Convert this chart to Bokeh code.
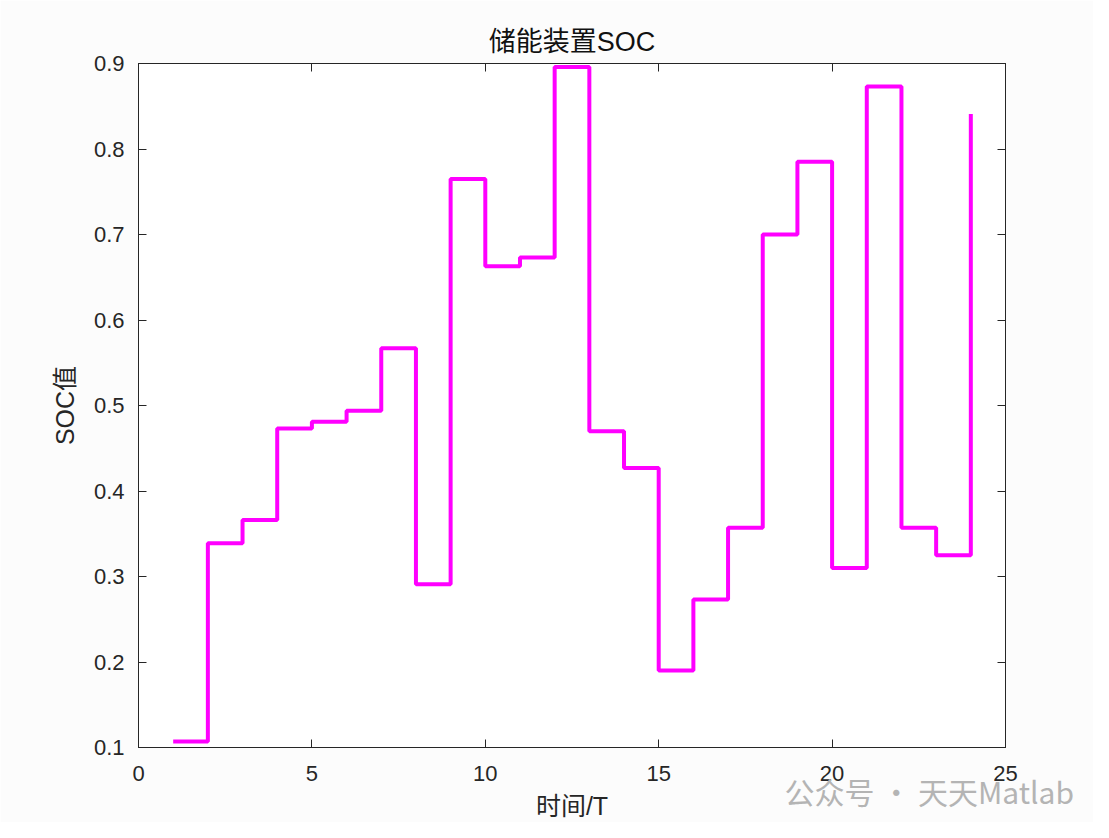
from bokeh.plotting import figure
from bokeh.models import Range1d, LinearAxis, FixedTicker, CustomJSTickFormatter, AllLabels
from bokeh.embed import file_html
from bokeh.resources import INLINE

# ---- data ----
hours = list(range(1, 25))
soc = [0.107, 0.339, 0.366, 0.473, 0.481, 0.494, 0.567, 0.291,
       0.765, 0.663, 0.673, 0.896, 0.470, 0.427, 0.190, 0.273,
       0.357, 0.700, 0.785, 0.310, 0.873, 0.357, 0.325, 0.841]
x_ticks = [0, 5, 10, 15, 20, 25]
y_ticks = [0.1, 0.2, 0.3, 0.4, 0.5, 0.6, 0.7, 0.8, 0.9]

title_text = "储能装置SOC"
x_label = "时间/T"
y_label = "SOC值"
watermark = "公众号 · 天天Matlab"
watermark_at = 22.8   # horizontal centre of the watermark, in x units

FONT = "Liberation Sans, Noto Sans CJK SC"
CJK = "Liberation Sans, Noto Sans CJK SC"
AX = "#262626"

p = figure(width=1093, height=822, output_backend="svg", toolbar_location=None,
           x_range=Range1d(0, 25), y_range=Range1d(0.1, 0.9),
           min_border_left=138, min_border_right=88, min_border_top=63, min_border_bottom=75,
           title=title_text)

p.background_fill_color = "#ffffff"
p.border_fill_color = "#fcfcfc"
p.outline_line_color = AX
p.outline_line_width = 1
p.grid.visible = False

p.title.align = "center"
p.title.text_font = CJK
p.title.text_font_size = "27px"
p.title.text_font_style = "normal"
p.title.text_color = "#111111"
p.title.offset = 0
p.title.standoff = 13

p.step(hours, soc, mode="after", line_color="#ff00ff", line_width=4)

for ax, ticks in ((p.xaxis[0], x_ticks), (p.yaxis[0], y_ticks)):
    ax.ticker = FixedTicker(ticks=ticks)
    ax.major_tick_in = 8
    ax.major_tick_out = 0
    ax.minor_tick_line_color = None
    ax.axis_line_color = AX
    ax.major_tick_line_color = AX
    ax.major_label_text_color = AX
    ax.major_label_text_font = FONT
    ax.major_label_text_font_size = "22px"
    ax.axis_label_text_font = CJK
    ax.axis_label_text_font_size = "25px"
    ax.axis_label_text_font_style = "normal"
    ax.axis_label_text_color = AX

p.xaxis[0].axis_label = x_label
p.yaxis[0].axis_label = y_label
p.xaxis[0].major_label_standoff = 18
p.yaxis[0].major_label_standoff = 14
p.xaxis[0].axis_label_standoff = 8
p.yaxis[0].axis_label_standoff = 12

empty = CustomJSTickFormatter(code="return ''")
top = LinearAxis(ticker=FixedTicker(ticks=x_ticks), formatter=empty)
right = LinearAxis(ticker=FixedTicker(ticks=y_ticks), formatter=empty)
for ax in (top, right):
    ax.major_tick_in = 8
    ax.major_tick_out = 0
    ax.minor_tick_line_color = None
    ax.axis_line_color = AX
    ax.major_tick_line_color = AX
    ax.major_label_text_font_size = "1px"
    ax.major_label_standoff = 0
p.add_layout(top, "above")
p.add_layout(right, "right")

# watermark, drawn as the single label of an extra, invisible axis below
wm_axis = LinearAxis(ticker=FixedTicker(ticks=[watermark_at]),
                     formatter=CustomJSTickFormatter(code="return '%s'" % watermark),
                     major_label_policy=AllLabels())
wm_axis.axis_line_color = None
wm_axis.major_tick_line_color = None
wm_axis.minor_tick_line_color = None
wm_axis.major_tick_in = 0
wm_axis.major_tick_out = 0
wm_axis.major_label_standoff = -54
wm_axis.major_label_text_font = "Noto Sans CJK SC"
wm_axis.major_label_text_font_size = "30px"
wm_axis.major_label_text_color = "#b4b4b4"
p.add_layout(wm_axis, "below")

open("out.html", "w").write(file_html(p, INLINE))
